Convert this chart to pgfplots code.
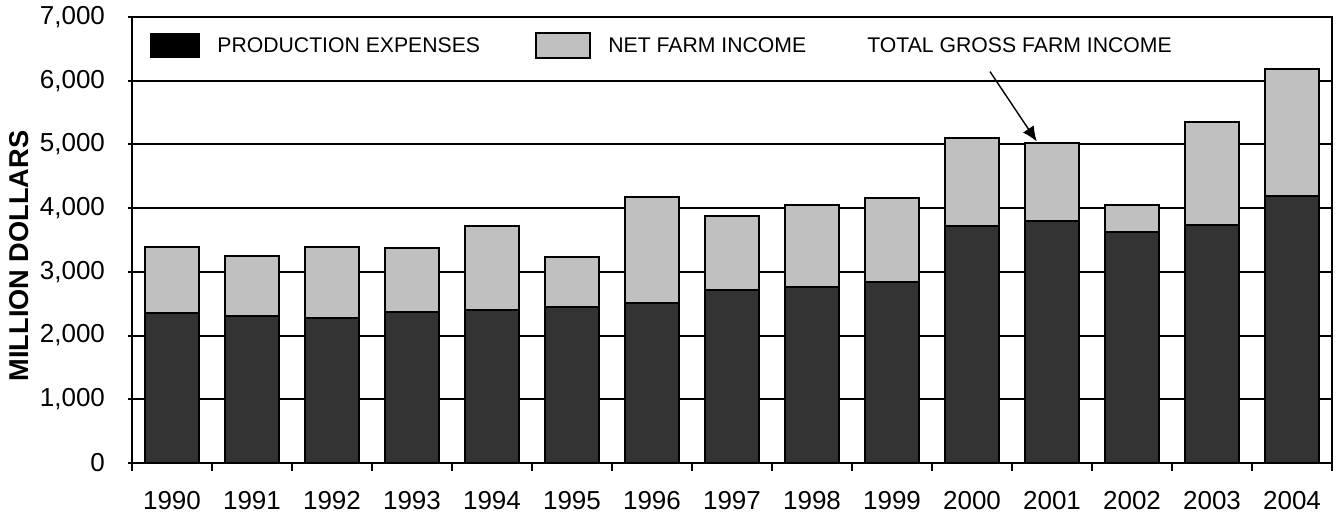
\documentclass[border=0pt]{standalone}
\usepackage{fontspec}
\setmainfont{Liberation Sans}
\usepackage{pgfplots}
\pgfplotsset{compat=1.18}
\usetikzlibrary{arrows.meta,calc}

\definecolor{expense}{HTML}{333333}
\definecolor{netinc}{HTML}{C0C0C0}

\begin{document}
\begin{tikzpicture}
\begin{axis}[
  scale only axis,
  width=600pt, height=223pt,
  ybar stacked,
  bar width=0.68,
  xmin=-0.5, xmax=14.5,
  ymin=0, ymax=7000,
  xtick={0,...,14},
  xticklabels={1990,1991,1992,1993,1994,1995,1996,1997,1998,1999,2000,2001,2002,2003,2004},
  minor xtick={-0.5,0.5,...,14.5},
  x tick style={draw=none},
  minor x tick style={draw=black, line width=1pt},
  minor tick length=4pt,
  ytick={0,1000,...,7000},
  y tick style={draw=black, line width=1pt},
  major tick length=2pt,
  tick align=outside,
  tick pos=left,
  scaled y ticks=false,
  /pgf/number format/.cd, 1000 sep={,}, assume math mode=true,
  /pgfplots/.cd,
  ymajorgrids,
  major grid style={black, line width=1pt},
  axis line style={black, line width=1.1pt},
  tick label style={font=\fontsize{13}{15}\selectfont},
  xticklabel style={yshift=-8.5pt},
  yticklabel style={xshift=-8pt},
]
\addplot[fill=expense, draw=black, line width=1pt] coordinates {
  (0,2355) (1,2308) (2,2276) (3,2370) (4,2402) (5,2449) (6,2507) (7,2711)
  (8,2763) (9,2841) (10,3716) (11,3804) (12,3621) (13,3736) (14,4191)
};
\addplot[fill=netinc, draw=black, line width=1pt] coordinates {
  (0,1041) (1,942) (2,1114) (3,1010) (4,1323) (5,785) (6,1664) (7,1162)
  (8,1287) (9,1314) (10,1389) (11,1225) (12,429) (13,1620) (14,2000)
};

% legend and annotation
\draw[fill=black] (axis cs:-0.275,6358) rectangle (axis cs:0.3375,6750);
\node[anchor=west, inner sep=0, font=\fontsize{10.6}{12}\selectfont] at (axis cs:0.5625,6554) {PRODUCTION EXPENSES};
\draw[fill=netinc, line width=0.8pt] (axis cs:4.55,6358) rectangle (axis cs:5.225,6750);
\node[anchor=west, inner sep=0, font=\fontsize{10.6}{12}\selectfont] at (axis cs:5.45,6554) {NET FARM INCOME};
\node[anchor=west, inner sep=0, font=\fontsize{10.6}{12}\selectfont] at (axis cs:8.6875,6554) {TOTAL GROSS FARM INCOME};
\draw[line width=0.7pt, -{Latex[length=7.5pt,width=6.5pt]}] (axis cs:10.225,6143) -- (axis cs:10.81,5045);

\coordinate (bl) at (rel axis cs:0,0);
\coordinate (tr) at (rel axis cs:1,1);
\coordinate (ylab) at (rel axis cs:0,0.464);
\end{axis}
\node[rotate=90, font=\bfseries\fontsize{13.6}{15}\selectfont] at ($(ylab)+(-56.5pt,0)$) {MILLION DOLLARS};
\pgfresetboundingbox
\path (bl) ++(-66pt,-27pt) coordinate (a) (tr) ++(3pt,8.5pt) coordinate (b);
\useasboundingbox (a) rectangle (b);
\end{tikzpicture}
\end{document}
